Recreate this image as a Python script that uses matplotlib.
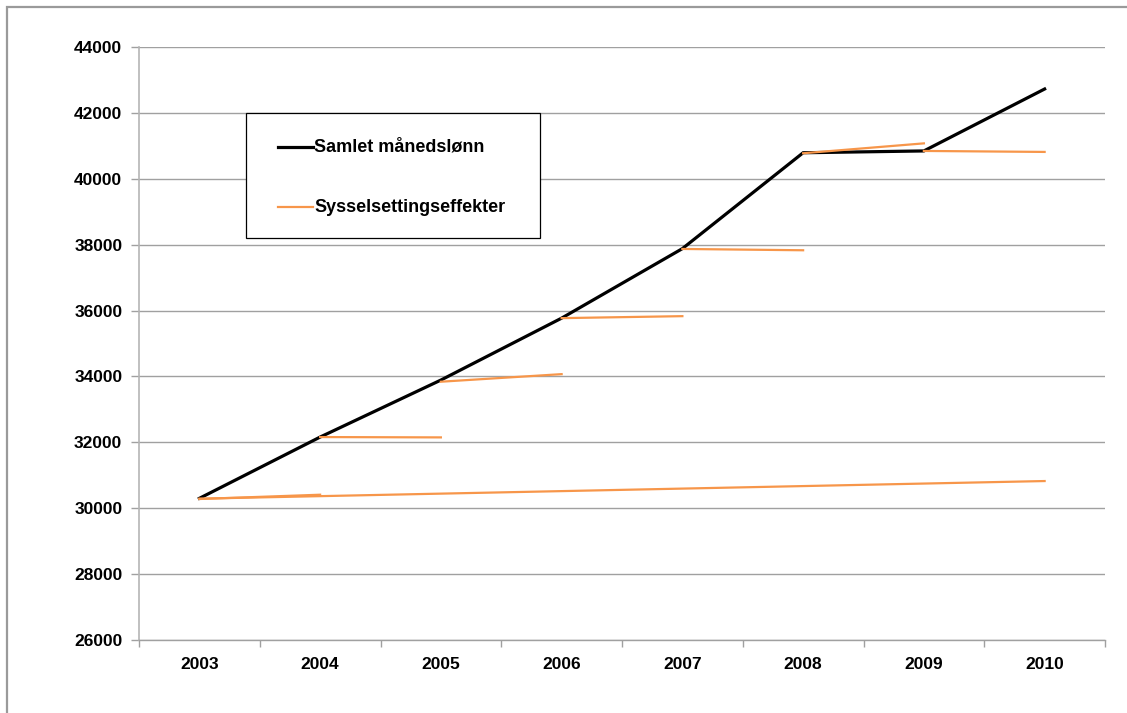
import matplotlib
matplotlib.use("Agg")
import matplotlib.pyplot as plt
from matplotlib.patches import Rectangle
from matplotlib.lines import Line2D

years = ["2003", "2004", "2005", "2006", "2007", "2008", "2009", "2010"]
samlet = [30300, 32160, 33890, 35770, 37880, 40790, 40845, 42725]

# Employment-effect segments: (start index, end index, start value, end value)
seg_start_idx = [0, 0, 1, 2, 3, 4, 5, 6]
seg_end_idx = [7, 1, 2, 3, 4, 5, 6, 7]
seg_start_val = [30290, 30280, 32160, 33840, 35770, 37870, 40775, 40845]
seg_end_val = [30825, 30410, 32150, 34070, 35830, 37830, 41075, 40815]

series_labels = ["Samlet månedslønn", "Sysselsettingseffekter"]
yticks = list(range(26000, 44001, 2000))

plt.rcParams['font.family'] = ['Liberation Sans', 'DejaVu Sans']

W, H = 1127, 713
fig = plt.figure(figsize=(W / 100, H / 100), dpi=100)
fig.patch.set_facecolor('white')

def fx(px):
    return px / W

def fy(py):
    return 1 - py / H

# outer chart border (clipped at right and bottom)
fig.patches.append(Rectangle((fx(7), -0.1), 1.2, fy(7) + 0.1, transform=fig.transFigure,
                             fill=False, edgecolor='#9a9a9a', linewidth=1.6, zorder=0))

left, right, top, bottom = 139, 1105, 47, 640
ax = fig.add_axes([fx(left), fy(bottom), (right - left) / W, (bottom - top) / H])

BLACK = 'black'
ORANGE = '#f7964a'

x = list(range(len(years)))
ax.plot(x, samlet, color=BLACK, linewidth=2.3, solid_joinstyle='miter', zorder=3)
for a, b, va, vb in zip(seg_start_idx, seg_end_idx, seg_start_val, seg_end_val):
    ax.plot([a, b], [va, vb], color=ORANGE, linewidth=1.6, zorder=4)

ax.set_xlim(-0.5, len(years) - 0.5)
ax.set_ylim(26000, 44000)
ax.set_yticks(yticks)
ax.set_yticklabels([str(v) for v in yticks], fontsize=12.5, fontweight='bold')
ax.set_xticks(x)
ax.set_xticklabels(years, fontsize=12.5, fontweight='bold')
ax.set_xticks([i - 0.5 for i in range(len(years) + 1)], minor=True)
ax.tick_params(axis='x', which='major', length=0, pad=12)
ax.tick_params(axis='x', which='minor', length=5, color='#a0a0a0', width=1)
ax.tick_params(axis='y', length=6, color='#a0a0a0', width=1, pad=6)

ax.grid(axis='y', color='#a0a0a0', linewidth=1)
ax.set_axisbelow(True)
for s in ['top', 'right']:
    ax.spines[s].set_visible(False)
ax.spines['left'].set_color('#b5b5b5')
ax.spines['left'].set_linewidth(1.2)
ax.spines['bottom'].set_color('#a0a0a0')
ax.spines['bottom'].set_linewidth(1)

# legend box drawn manually to match the original layout
fig.patches.append(Rectangle((fx(246), fy(238)), fx(540) - fx(246), fy(113) - fy(238),
                             transform=fig.transFigure, facecolor='white', edgecolor='black',
                             linewidth=0.9, zorder=10))
for label, color, lw, py in [(series_labels[0], BLACK, 2.3, 147), (series_labels[1], ORANGE, 1.6, 207)]:
    fig.lines.append(Line2D([fx(278), fx(313)], [fy(py), fy(py)], transform=fig.transFigure,
                            color=color, linewidth=lw, zorder=11))
    fig.text(fx(314), fy(py), label, fontsize=13, fontweight='bold', ha='left', va='center',
             zorder=11)

fig.savefig('out.png', dpi=100)
